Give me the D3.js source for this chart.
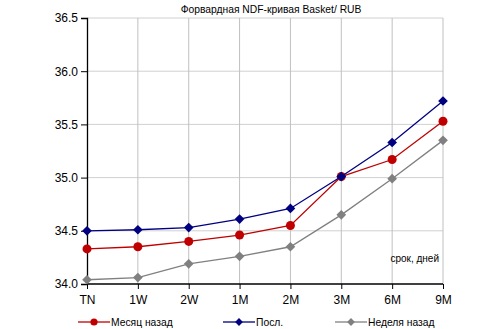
<!DOCTYPE html>
<html>
<head>
<meta charset="utf-8">
<script src="https://cdn.jsdelivr.net/npm/d3@7"></script>
<style>
    body { margin: 0; background: #fff; }
    text { font-family: "Liberation Sans", Arial, sans-serif; fill: #000; }
</style>
</head>
<body>
<svg id="chart" width="477" height="329"></svg>
<script>
// Chart data
const terms = ['TN', '1W', '2W', '1M', '2M', '3M', '6M', '9M'];
const monthAgo = [34.33, 34.35, 34.40, 34.46, 34.55, 35.01, 35.17, 35.53];
const latest = [34.50, 34.51, 34.53, 34.61, 34.71, 35.01, 35.33, 35.72];
const weekAgo = [34.04, 34.06, 34.19, 34.26, 34.35, 34.65, 34.99, 35.35];
const yTicks = [34.0, 34.5, 35.0, 35.5, 36.0, 36.5];

const series = [
    { name: 'Месяц назад', values: monthAgo, color: '#c00000', marker: 'circle', legendX: 78 },
    { name: 'Посл.', values: latest, color: '#000080', marker: 'diamond', legendX: 223 },
    { name: 'Неделя назад', values: weekAgo, color: '#808080', marker: 'diamond', legendX: 335 }
];

/**
 * Layout.
 */
const margin = { top: 18, left: 87, right: 34, bottom: 45 },
    width = 477 - margin.left - margin.right,
    height = 329 - margin.top - margin.bottom;

const svg = d3.select('#chart');

const x = d3.scalePoint().domain(terms).range([margin.left, margin.left + width]);
const y = d3.scaleLinear().domain([34, 36.5]).range([margin.top + height, margin.top]);

// Title
svg.append('text')
    .attr('x', 271).attr('y', 13)
    .attr('text-anchor', 'middle')
    .style('font-size', '10.3px')
    .text('Форвардная NDF-кривая Basket/ RUB');

// Grid
const grid = svg.append('g').attr('class', 'grid');
grid.selectAll('.hgrid').data(yTicks.slice(1)).enter().append('line')
    .attr('x1', margin.left).attr('x2', margin.left + width)
    .attr('y1', d => y(d)).attr('y2', d => y(d))
    .attr('stroke', '#d0d0d0').attr('stroke-width', 1);
grid.selectAll('.vgrid').data(terms.slice(1)).enter().append('line')
    .attr('x1', d => x(d)).attr('x2', d => x(d))
    .attr('y1', margin.top).attr('y2', margin.top + height)
    .attr('stroke', '#c0c0c0').attr('stroke-width', 1);

// Axes
const yAxis = svg.append('g')
    .attr('transform', 'translate(' + margin.left + ',0)')
    .call(d3.axisLeft(y).tickValues(yTicks).tickFormat(d3.format('.1f')).tickSize(6).tickPadding(3));
const xAxis = svg.append('g')
    .attr('transform', 'translate(0,' + (margin.top + height) + ')')
    .call(d3.axisBottom(x).tickSize(5).tickPadding(6));

[yAxis, xAxis].forEach(a => {
    a.select('.domain').attr('stroke', '#000').attr('stroke-width', 1.3);
    a.selectAll('.tick line').attr('stroke', '#000');
    a.selectAll('.tick text').style('font-size', '12px').attr('fill', '#000')
        .style('font-family', '"Liberation Sans", Arial, sans-serif');
});
xAxis.select('.domain').attr('d', 'M' + margin.left + ',0H' + (margin.left + width));

// Axis caption
svg.append('text')
    .attr('x', 439).attr('y', 262)
    .attr('text-anchor', 'end')
    .style('font-size', '10px')
    .text('срок, дней');

// Lines and markers
const line = d3.line().x((d, i) => x(terms[i])).y(d => y(d));

function drawMarker(g, type, color, scale) {
    if (type === 'circle') {
        g.append('circle').attr('r', 4.5 * scale).attr('fill', color);
    } else {
        g.append('path').attr('d', d3.symbol().type(d3.symbolDiamond2).size(60 * scale * scale)()).attr('fill', color);
    }
}

series.forEach(s => {
    const g = svg.append('g').attr('class', 'series');
    g.append('path').datum(s.values)
        .attr('d', line)
        .attr('fill', 'none')
        .attr('stroke', s.color)
        .attr('stroke-width', 1.3);
    s.values.forEach((v, i) => {
        const m = g.append('g').attr('transform', 'translate(' + x(terms[i]) + ',' + y(v) + ')');
        drawMarker(m, s.marker, s.color, 1);
    });
});

// Legend
const legend = svg.append('g').attr('class', 'legend');
series.forEach(s => {
    const g = legend.append('g').attr('transform', 'translate(' + s.legendX + ',322)');
    g.append('line').attr('x1', 0).attr('x2', 32).attr('y1', 0).attr('y2', 0)
        .attr('stroke', s.color).attr('stroke-width', 1.3);
    const m = g.append('g').attr('transform', 'translate(16,0)');
    drawMarker(m, s.marker, s.color, 0.8);
    g.append('text').attr('x', 33).attr('y', 4).style('font-size', '10.3px').text(s.name);
});
</script>
</body>
</html>
